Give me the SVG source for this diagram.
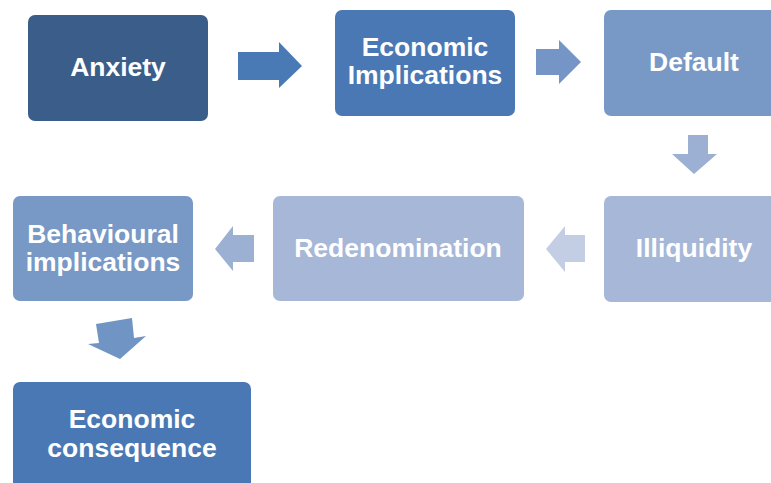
<svg xmlns="http://www.w3.org/2000/svg" width="771" height="483" viewBox="0 0 771 483">
  <style>
    .box { stroke: none; }
    .lbl { font-family: "Liberation Sans", Arial, sans-serif; font-weight: bold; font-size: 26.5px; fill: #ffffff; text-anchor: middle; }
    .c1 { fill: #3b5d8a; }
    .c2 { fill: #4a78b4; }
    .c3 { fill: #7898c5; }
    .c4 { fill: #a6b7d7; }
  </style>
  <rect width="771" height="483" fill="#ffffff"/>

  <g id="connectors">
    <polygon points="238,52 279,52 279,42 302,66 279,88 279,80 238,80" fill="#4a7ab6"/>
    <polygon points="536,49 559,49 559,40 581,62 559,84 559,75 536,75" fill="#7495c5"/>
    <polygon points="688,135 708,135 708,154 717,154 694,174 672,154 688,154" fill="#9bb0d3"/>
    <polygon points="585,235 565,235 565,226 546,249 565,272 565,262 585,262" fill="#c3cee4"/>
    <polygon points="254,235 233,235 233,226 215,249 233,271 233,262 254,262" fill="#9bb0d3"/>
    <polygon points="96,324 132,318 134,338 146,336 120,359 88,344 99,343" fill="#7094c4"/>
  </g>

  <g id="anxiety">
    <rect class="box c1" x="28" y="15" width="180" height="106" rx="7"/>
    <text class="lbl" x="118" y="76" font-size="27">Anxiety</text>
  </g>

  <g id="economic-implications">
    <rect class="box c2" x="335" y="10" width="180" height="106" rx="7"/>
    <text class="lbl" x="425" y="56">Economic</text>
    <text class="lbl" x="425" y="84">Implications</text>
  </g>

  <g id="default">
    <rect class="box c3" x="604" y="10" width="180" height="106" rx="7"/>
    <text class="lbl" x="694" y="71" font-size="26">Default</text>
  </g>

  <g id="illiquidity">
    <rect class="box c4" x="604" y="196" width="180" height="106" rx="7"/>
    <text class="lbl" x="694" y="257" font-size="26">Illiquidity</text>
  </g>

  <g id="redenomination">
    <rect class="box c4" x="273" y="196" width="251" height="105" rx="7"/>
    <text class="lbl" x="398" y="257" font-size="27">Redenomination</text>
  </g>

  <g id="behavioural-implications">
    <rect class="box c3" x="13" y="196" width="180" height="105" rx="7"/>
    <text class="lbl" x="103" y="243">Behavioural</text>
    <text class="lbl" x="103" y="271">implications</text>
  </g>

  <g id="economic-consequence">
    <rect class="box c2" x="13" y="382" width="238" height="120" rx="7"/>
    <text class="lbl" x="132" y="428">Economic</text>
    <text class="lbl" x="132" y="457">consequence</text>
  </g>
</svg>
